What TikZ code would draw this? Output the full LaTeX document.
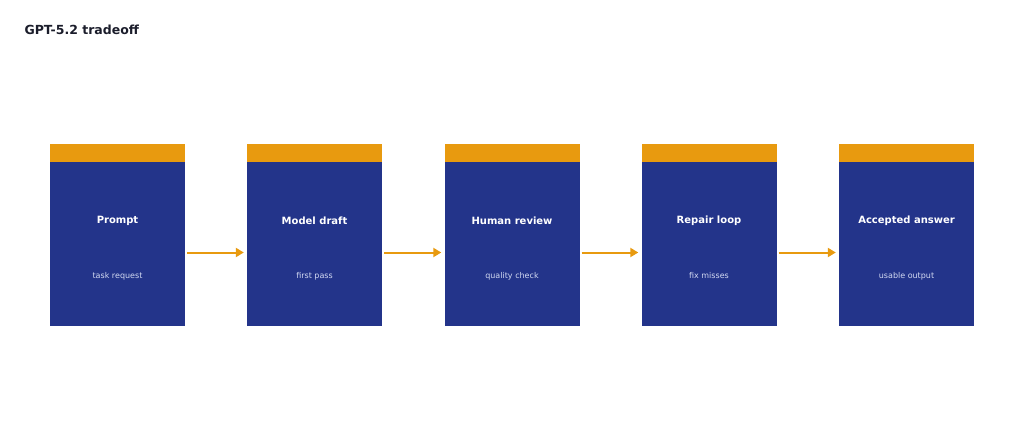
\documentclass[tikz,border=0pt]{standalone}
\usepackage{fontspec}
\setmainfont{DejaVu Sans}
\usetikzlibrary{arrows.meta}
\definecolor{bl}{HTML}{23348A}
\definecolor{og}{HTML}{E89A0F}
\definecolor{tt}{HTML}{1B1D2B}
\definecolor{st}{HTML}{D3DAF2}
\begin{document}
\begin{tikzpicture}[x=1pt,y=-1pt,
  box/.style={fill=bl,draw=none,minimum width=135pt,minimum height=164pt,inner sep=0pt},
  bar/.style={fill=og,draw=none,minimum width=135pt,minimum height=18pt,inner sep=0pt},
  ttl/.style={text=white,font=\bfseries\fontsize{10}{12}\selectfont},
  sub/.style={text=st,font=\fontsize{8}{10}\selectfont},
  arr/.style={draw=og,line width=2pt,-{Triangle[length=8pt,width=9pt]}}]
\useasboundingbox (0,0) rectangle (1024,441);
\node[anchor=west,text=tt,font=\bfseries\fontsize{12.5}{15}\selectfont] (title) at (21,30) {GPT-5.2 tradeoff};
\foreach \i/\x/\a/\b in {1/117.5/Prompt/task request,2/314.5/Model draft/first pass,3/512/Human review/quality check,4/709/Repair loop/fix misses,5/906.5/Accepted answer/usable output}{
  \node[box] (b\i) at (\x,244) {};
  \node[bar] (h\i) at (\x,153) {};
  \node[ttl] (t\i) at (\x,221) {\a};
  \node[sub] (s\i) at (\x,276) {\b};
}
\foreach \i/\j in {1/2,2/3,3/4,4/5}{
  \draw[arr] ([xshift=2pt,yshift=-8.5pt]b\i.east) -- ([xshift=-3pt,yshift=-8.5pt]b\j.west);
}
\end{tikzpicture}
\end{document}
